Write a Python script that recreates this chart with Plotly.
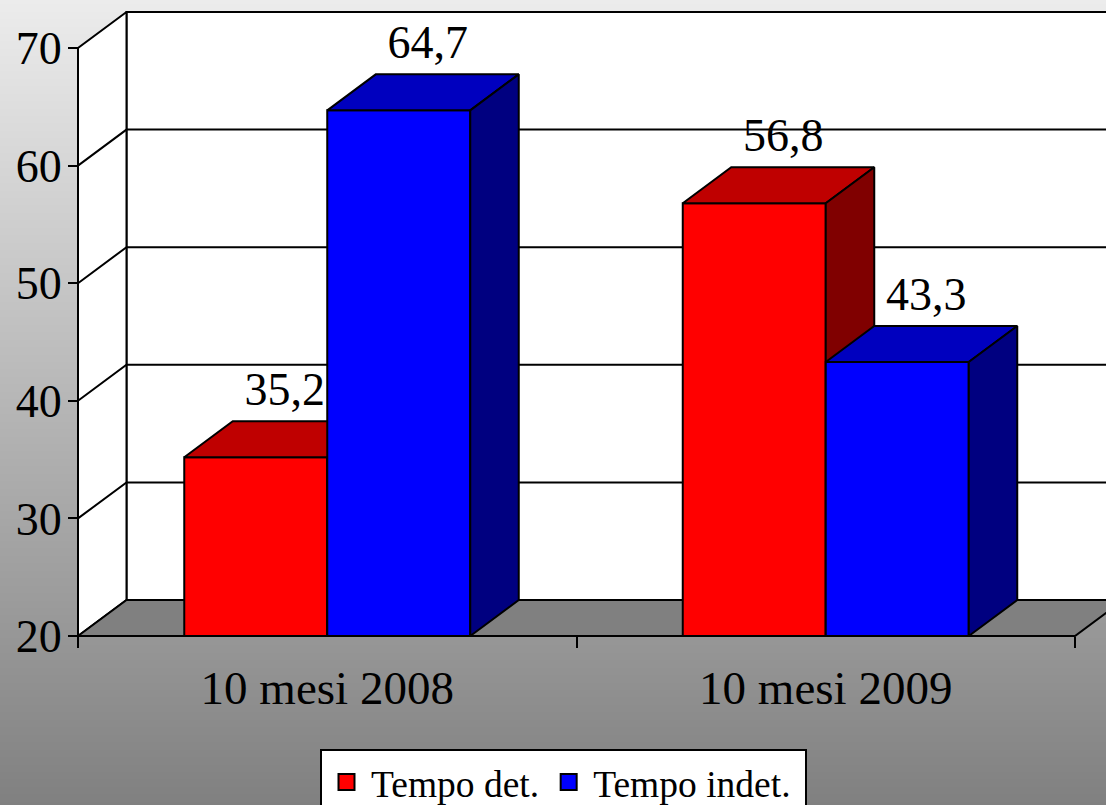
import plotly.graph_objects as go

# ---- data ----
categories = ["10 mesi 2008", "10 mesi 2009"]
series_names = ["Tempo det.", "Tempo indet.\u00a0"]
tempo_det = [35.2, 56.8]
tempo_indet = [64.7, 43.3]
y_ticks = [20, 30, 40, 50, 60, 70]
bg_stops = ["#808080", "#ececec"]

# ---- styling ----
FONT = "Liberation Serif"
W, H = 1106, 805
PX_X, PX_Y = 498.5, 11.76      # pixels per category, pixels per value unit
X0_PX, Y0_PX = 78, 636         # pixel of the origin of the chart
DX, DY = 48.5 / PX_X, 36 / PX_Y  # depth of the 3-D effect in axis units
BAR_W = 143 / PX_X
LABEL_LIFT = 0.4
Y_BASE = y_ticks[0]
Y_TOP = y_ticks[-1]
x_range = [-X0_PX / PX_X, (W - X0_PX) / PX_X]
y_range = [Y_BASE - (H - Y0_PX) / PX_Y, Y_BASE + Y0_PX / PX_Y]
n_cat = len(categories)

fig = go.Figure()

# page background gradient
fig.add_trace(go.Heatmap(z=[[0, 0], [1, 1]], x=[0, 1], y=[0, 1], zsmooth="best",
                         colorscale=[[0, bg_stops[0]], [1, bg_stops[1]]],
                         showscale=False, hoverinfo="skip", xaxis="x", yaxis="y"))


def poly(xs, ys, fill, axes=("x2", "y2"), width=2, name=None):
    fig.add_trace(go.Scatter(x=xs, y=ys, mode="lines", fill="toself", fillcolor=fill,
                             line=dict(color="black", width=width), showlegend=False,
                             hoverinfo="skip", xaxis=axes[0], yaxis=axes[1]))


# walls and floor
poly([DX, n_cat + DX, n_cat + DX, DX, DX],
     [Y_BASE + DY, Y_BASE + DY, Y_TOP + DY, Y_TOP + DY, Y_BASE + DY], "white")
poly([0, DX, DX, 0, 0],
     [Y_BASE, Y_BASE + DY, Y_TOP + DY, Y_TOP, Y_BASE], "white")
poly([0, n_cat, n_cat + DX, DX, 0],
     [Y_BASE, Y_BASE, Y_BASE + DY, Y_BASE + DY, Y_BASE], "#808080")

# grid lines on both walls
gx, gy = [], []
for v in y_ticks[1:-1]:
    gx += [0, DX, n_cat + DX, None]
    gy += [v, v + DY, v + DY, None]
fig.add_trace(go.Scatter(x=gx, y=gy, mode="lines", line=dict(color="black", width=2),
                         showlegend=False, hoverinfo="skip", xaxis="x2", yaxis="y2"))


def series(values, offset, front, top, side, axes):
    lefts = [i + 0.5 + offset for i in range(len(values))]
    fig.add_trace(go.Bar(x=[i + 0.5 for i in range(len(values))],
                         y=[v - Y_BASE for v in values], base=Y_BASE, width=BAR_W, offset=offset,
                         marker=dict(color=front, line=dict(color="black", width=2)),
                         showlegend=False, hoverinfo="skip", xaxis=axes[0], yaxis=axes[1]))
    for l, v in zip(lefts, values):
        r = l + BAR_W
        poly([l, r, r + DX, l + DX, l], [v, v, v + DY, v + DY, v], top, axes)
        poly([r, r + DX, r + DX, r, r], [Y_BASE, Y_BASE + DY, v + DY, v, Y_BASE], side, axes)
    fig.add_trace(go.Scatter(x=[l + BAR_W / 2 + DX * 0.6 for l in lefts],
                             y=[v + DY + LABEL_LIFT for v in values],
                             text=[f"{v:.1f}".replace(".", ",") for v in values],
                             mode="text", textposition="top center",
                             textfont=dict(family=FONT, size=46, color="black"),
                             showlegend=False, hoverinfo="skip", cliponaxis=False,
                             xaxis=axes[0], yaxis=axes[1]))


series(tempo_det, -BAR_W, "#ff0000", "#bf0000", "#800000", ("x3", "y3"))
series(tempo_indet, 0, "#0000ff", "#0000bf", "#000080", ("x4", "y4"))

# legend entries
for name, colour in zip(series_names, ["#ff0000", "#0000ff"]):
    fig.add_trace(go.Scatter(x=[None], y=[None], mode="markers", name=name,
                             marker=dict(symbol="square", size=20, color=colour,
                                         line=dict(color="black", width=2)),
                             xaxis="x2", yaxis="y2"))

hidden = dict(visible=False, fixedrange=True)
fig.update_layout(
    width=W, height=H, margin=dict(l=0, r=0, t=0, b=0, autoexpand=False),
    paper_bgcolor="rgba(0,0,0,0)", plot_bgcolor="rgba(0,0,0,0)",
    barmode="overlay", font=dict(family=FONT, color="black"),
    xaxis=dict(domain=[0, 1], range=[0, 1], **hidden),
    yaxis=dict(domain=[0, 1], range=[0, 1], **hidden),
    xaxis2=dict(domain=[0, 1], range=x_range, anchor="free", position=(H - Y0_PX) / H,
                showgrid=False, zeroline=False, showline=False,
                tickmode="array", tickvals=[i + 0.5 for i in range(n_cat)], ticktext=categories,
                ticks="outside", ticklen=0, tickfont=dict(family=FONT, size=47, color="black"),
                ticklabelstandoff=11,
                minor=dict(tickmode="array", tickvals=list(range(n_cat + 1)), ticks="outside",
                           ticklen=11, tickwidth=2, tickcolor="black")),
    yaxis2=dict(domain=[0, 1], range=y_range, anchor="free", position=X0_PX / W,
                showgrid=False, zeroline=False, showline=False,
                tickmode="array", tickvals=y_ticks, ticks="outside", ticklen=10, tickwidth=2,
                tickcolor="black", tickfont=dict(family=FONT, size=46, color="black"),
                ticklabelstandoff=-3),
    xaxis3=dict(range=x_range, overlaying="x2", anchor="y3", **hidden),
    yaxis3=dict(range=y_range, overlaying="y2", anchor="x3", **hidden),
    xaxis4=dict(range=x_range, overlaying="x2", anchor="y4", **hidden),
    yaxis4=dict(range=y_range, overlaying="y2", anchor="x4", **hidden),
    legend=dict(orientation="h", x=320 / W, xanchor="left", y=1 - 749 / H, yanchor="top",
                bgcolor="white", bordercolor="black", borderwidth=2,
                font=dict(family=FONT, size=37.5, color="black"), itemwidth=39,
                itemclick=False, itemdoubleclick=False),
)
fig.write_html("out.html", config={"displayModeBar": False},
               post_script="document.body.style.margin='0';document.body.style.overflow='hidden';")
